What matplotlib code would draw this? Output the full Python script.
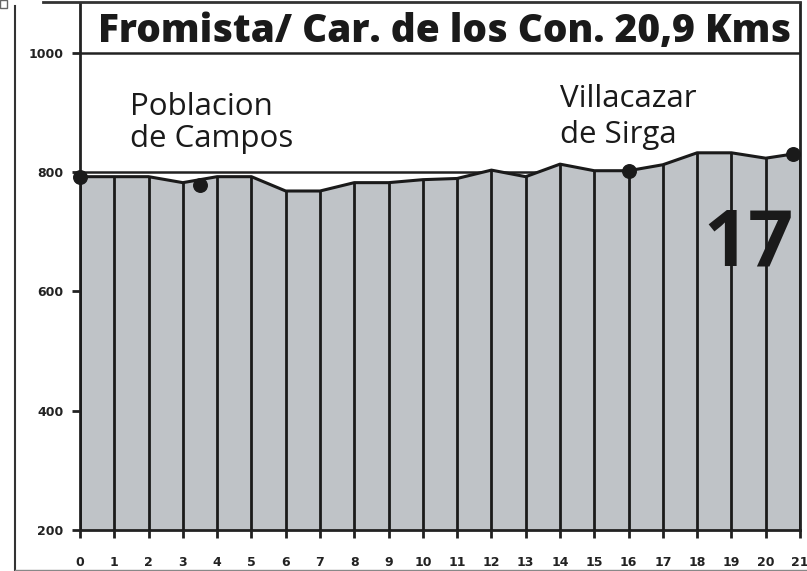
import matplotlib
matplotlib.use("Agg")
import matplotlib.pyplot as plt
from matplotlib.lines import Line2D
from matplotlib.patches import Rectangle

# Elevation profile (km, metres)
km = [0, 1, 2, 3, 4, 5, 6, 7, 8, 9, 10, 11, 12, 13, 14, 15, 16, 17, 18, 19, 20, 20.8, 21]
alt = [792, 792, 792, 782, 792, 792, 768, 768, 782, 782, 787, 789, 803, 792, 813, 802, 802, 812, 832, 832, 823, 830, 830]

# Towns marked with a dot
dot_km = [0, 3.5, 16, 20.8]
dot_alt = [792, 778, 802, 830]

y_ticks = [200, 400, 600, 800, 1000]
x_ticks = list(range(0, 22))

title = "Fromista/ Car. de los Con. 20,9 Kms"
stage = "17"

fig = plt.figure(figsize=(8.07, 5.71), dpi=100)
ax = fig.add_axes([80 / 807, 41 / 571, 720 / 807, 527 / 571])
ax.set_xlim(0, 21)
ax.set_ylim(200, 1083)

# Horizontal reference lines (hidden under the fill where covered)
for yv in [800, 1000]:
    ax.axhline(yv, color="#222222", lw=1.8, zorder=1)

ax.fill_between(km, 200, alt, color="#bfc3c7", zorder=2)
ax.plot(km, alt, color="#1a1a1a", lw=2.2, zorder=4)

# vertical km lines up to the profile
for k in x_ticks:
    top = 0
    for i in range(len(km) - 1):
        if km[i] <= k <= km[i + 1]:
            t = (k - km[i]) / (km[i + 1] - km[i]) if km[i + 1] != km[i] else 0
            top = alt[i] + t * (alt[i + 1] - alt[i])
            break
    ax.plot([k, k], [200, top], color="#1a1a1a", lw=2, zorder=3)

ax.scatter(dot_km, dot_alt, s=95, color="#1a1a1a", zorder=5, clip_on=False)

ax.set_yticks(y_ticks)
ax.set_xticks(x_ticks)
ax.tick_params(axis="both", direction="out", length=5.5, width=2, color="#222222")
ax.tick_params(axis="y", pad=6.5)
ax.tick_params(axis="x", pad=13)
for lab in ax.get_yticklabels() + ax.get_xticklabels():
    lab.set_fontfamily("DejaVu Sans")
    lab.set_fontweight("bold")
    lab.set_fontsize(9)
    lab.set_color("#222222")

for s in ["left", "bottom", "right"]:
    ax.spines[s].set_linewidth(2)
    ax.spines[s].set_color("#222222")
ax.spines["top"].set_visible(False)

ax.text(10.64, 1017, title, ha="center", va="baseline", fontsize=27.9, fontweight="heavy",
        family="Open Sans", color="#1a1a1a")

town_style = dict(ha="left", va="baseline", fontsize=22.5, family="Open Sans", color="#1a1a1a")
ax.text(1.45, 896, "Poblacion", **town_style)
ax.text(1.45, 841, "de Campos", **town_style)
ax.text(14.0, 908, "Villacazar", **town_style)
ax.text(14.0, 849, "de Sirga", **town_style)

ax.text(20.8, 643, stage, ha="right", va="baseline", fontsize=57, fontweight="bold",
        family="Open Sans", color="#1a1a1a")

# outer frame pieces
fig.add_artist(Line2D([43 / 807, 800 / 807], [1 - 2 / 571, 1 - 2 / 571], color="#333333", lw=2))
fig.add_artist(Line2D([15 / 807, 15 / 807], [0, 1 - 6 / 571], color="#333333", lw=1.5))
fig.add_artist(Line2D([15 / 807, 807 / 807], [1 / 571, 1 / 571], color="#888888", lw=1))
fig.add_artist(Rectangle((0, 1 - 8 / 571), 7 / 807, 8 / 571, transform=fig.transFigure,
                         fill=False, edgecolor="#666666", lw=1))

fig.savefig("out.png", dpi=100)
